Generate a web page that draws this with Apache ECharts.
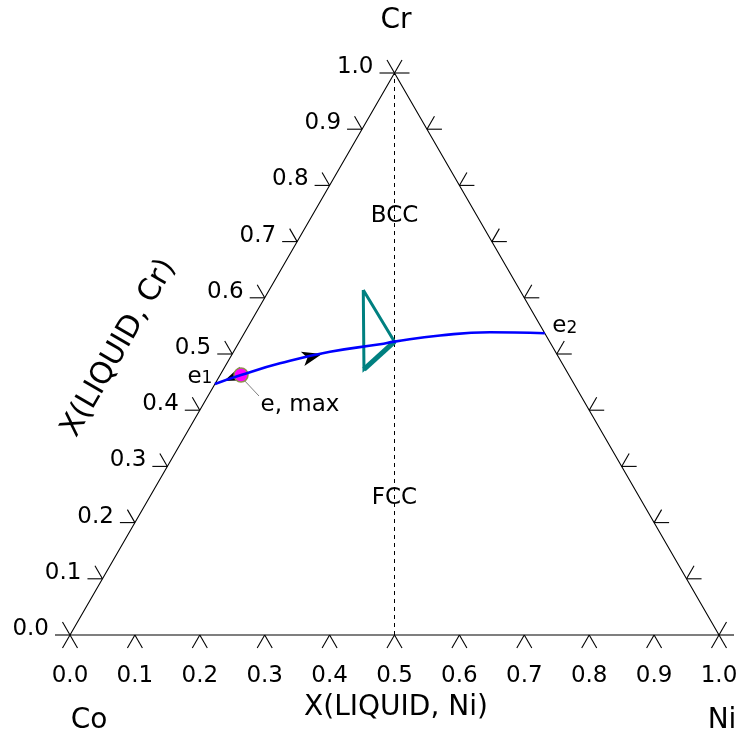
<!DOCTYPE html>
<html>
<head>
<meta charset="utf-8">
<script src="https://cdn.jsdelivr.net/npm/echarts@6/dist/echarts.min.js"></script>
<style>
  html, body { margin: 0; padding: 0; background: #fff; }
  #chart { width: 741px; height: 739px; }
</style>
</head>
<body>
<div id="chart"></div>
<script>
const FONT = 'DejaVu Sans';

// Tick positions along each side (mole fraction) and their labels
const tickValues = [0, 0.1, 0.2, 0.3, 0.4, 0.5, 0.6, 0.7, 0.8, 0.9, 1.0];
const tickLabels = ['0.0', '0.1', '0.2', '0.3', '0.4', '0.5', '0.6', '0.7', '0.8', '0.9', '1.0'];

// Liquidus valley from e1 (Co-Cr side) to e2 (Ni-Cr side): X(Ni), X(Cr)
const valleyNi = [0.0000, 0.0322, 0.0819, 0.1486, 0.2191, 0.2390, 0.3037, 0.3778, 0.4166, 0.4632];
const valleyCr = [0.4466, 0.4626, 0.4834, 0.5041, 0.5172, 0.5220, 0.5329, 0.5386, 0.5382, 0.5368];

// Three-phase tie triangle: X(Ni), X(Cr)
const tieNi = [0.1450, 0.2390, 0.2166];
const tieCr = [0.6138, 0.5220, 0.4727];

// Maximum on the valley
const eMaxNi = [0.0322];
const eMaxCr = [0.4626];

// Direction arrows on the valley (position and heading in degrees)
const arrowNi = [0.1383, 0.0113];
const arrowCr = [0.5000, 0.4519];
const arrowRot = [-76, 112];

// Invariant points and phase-field labels: X(Ni), X(Cr), text
const noteNi = [0.0000, 0.4632, 0.1275, 0.3781];
const noteCr = [0.4466, 0.5368, 0.7450, 0.2438];
const noteText = ['{a|e}{b|1}', '{a|e}{b|2}', 'BCC', 'FCC'];

// Ternary (Ni, Cr) -> cartesian position for the equilateral triangle
const tern = (ni, cr) => [ni + cr / 2, cr];

const chart = echarts.init(document.getElementById('chart'));

const tickFont = '23px "' + FONT + '"';
const titleFont = '28px "' + FONT + '"';

const tickItem = (params, api) => {
  const t = api.value(0);
  const b = api.coord(tern(t, 0));
  const l = api.coord(tern(0, t));
  const r = api.coord(tern(1 - t, t));
  const L = 15, dx = L * 0.5, dy = L * Math.sqrt(3) / 2;
  const seg = (p, ox, oy) => ({
    type: 'line',
    shape: { x1: p[0], y1: p[1], x2: p[0] + ox, y2: p[1] + oy },
    style: { stroke: '#000', lineWidth: 1.1 }
  });
  const label = tickLabels[params.dataIndex];
  return {
    type: 'group',
    children: [
      seg(b, -dx, dy), seg(b, dx, dy),
      seg(l, -L, 0), seg(l, -dx, -dy),
      seg(r, L, 0), seg(r, dx, -dy),
      { type: 'text', x: b[0], y: b[1] + 41,
        style: { text: label, align: 'center', verticalAlign: 'middle', font: tickFont, fill: '#000' } },
      { type: 'text', x: l[0] - 21, y: l[1] - 6,
        style: { text: label, align: 'right', verticalAlign: 'middle', font: tickFont, fill: '#000' } }
    ]
  };
};

const leaderItem = (params, api) => {
  const p = api.coord([api.value(0), api.value(1)]);
  return {
    type: 'line',
    shape: { x1: p[0] + 2, y1: p[1] + 4, x2: p[0] + 18, y2: p[1] + 21 },
    style: { stroke: '#7f7f7f', lineWidth: 1 }
  };
};

const option = {
  animation: false,
  grid: { left: 70, top: 73, width: 649, height: 562 },
  xAxis: { type: 'value', min: 0, max: 1, show: false },
  yAxis: { type: 'value', min: 0, max: 1, show: false },
  graphic: [
    { type: 'text', x: 396, y: 21, style: { text: 'Cr', align: 'center', verticalAlign: 'middle', font: titleFont, fill: '#000' } },
    { type: 'text', x: 89, y: 721, style: { text: 'Co', align: 'center', verticalAlign: 'middle', font: titleFont, fill: '#000' } },
    { type: 'text', x: 722, y: 721, style: { text: 'Ni', align: 'center', verticalAlign: 'middle', font: titleFont, fill: '#000' } },
    { type: 'text', x: 396, y: 708, style: { text: 'X(LIQUID, Ni)', align: 'center', verticalAlign: 'middle', font: titleFont, fill: '#000' } },
    { type: 'text', x: 119, y: 348, rotation: Math.PI / 3, originX: 0, originY: 0,
      style: { text: 'X(LIQUID, Cr)', align: 'center', verticalAlign: 'middle', font: '30px "' + FONT + '"', fill: '#000' } }
  ],
  series: [
    {
      name: 'frame', type: 'line', clip: false, symbol: 'none', silent: true,
      lineStyle: { color: '#000', width: 1.1 },
      data: [tern(0, 0), tern(1, 0), tern(0, 1), tern(0, 0)]
    },
    {
      name: 'Ni=Co', type: 'line', clip: false, symbol: 'none', silent: true,
      lineStyle: { color: '#000', width: 1, type: [4, 4] },
      data: [tern(0.5, 0), tern(0, 1)]
    },
    {
      name: 'ticks', type: 'custom', clip: false, silent: true,
      renderItem: tickItem,
      data: tickValues.map(v => [v])
    },
    {
      name: 'tie triangle', type: 'line', clip: false, symbol: 'none', silent: true,
      lineStyle: { color: '#008080', width: 3, join: 'miter' },
      data: [0, 1, 2, 0].map(i => tern(tieNi[i], tieCr[i]))
    },
    {
      name: 'tie edge', type: 'line', clip: false, symbol: 'none', silent: true,
      lineStyle: { color: '#008080', width: 5 },
      data: [1, 2].map(i => tern(tieNi[i], tieCr[i]))
    },
    {
      name: 'valley', type: 'line', clip: false, symbol: 'none', smooth: true, silent: true,
      lineStyle: { color: '#0000ff', width: 2.6 },
      data: valleyNi.map((n, i) => tern(n, valleyCr[i]))
    },
    {
      name: 'arrows', type: 'scatter', clip: false, silent: true,
      symbol: 'arrow', symbolSize: [11, 20],
      itemStyle: { color: '#000', opacity: 1 },
      data: arrowNi.map((n, i) => ({ value: tern(n, arrowCr[i]), symbolRotate: arrowRot[i] }))
    },
    {
      name: 'leader', type: 'custom', clip: false, silent: true,
      renderItem: leaderItem,
      data: eMaxNi.map((n, i) => tern(n, eMaxCr[i]))
    },
    {
      name: 'e, max', type: 'scatter', clip: false, silent: true,
      symbolSize: 14,
      itemStyle: { color: '#ff00ff', borderColor: '#8f8f4f', borderWidth: 1.5, opacity: 1 },
      label: { show: true, formatter: 'e, max', position: 'inside', offset: [59, 30],
               fontFamily: FONT, fontSize: 23, color: '#000' },
      data: eMaxNi.map((n, i) => tern(n, eMaxCr[i]))
    },
    {
      name: 'notes', type: 'scatter', clip: false, silent: true,
      symbolSize: 0,
      itemStyle: { opacity: 1 },
      label: {
        show: true, position: 'inside', color: '#000',
        fontFamily: FONT, fontSize: 23,
        formatter: p => noteText[p.dataIndex],
        rich: {
          a: { fontFamily: FONT, fontSize: 23, color: '#000', verticalAlign: 'bottom' },
          b: { fontFamily: FONT, fontSize: 17, color: '#000', verticalAlign: 'bottom', padding: [0, 0, 1, 0] }
        }
      },
      data: noteNi.map((n, i) => {
        const offs = [[-15, -7], [20, -7], [0, 0], [0, 0]];
        return { value: tern(n, noteCr[i]), label: { offset: offs[i] } };
      })
    }
  ]
};

chart.setOption(option);
</script>
</body>
</html>
